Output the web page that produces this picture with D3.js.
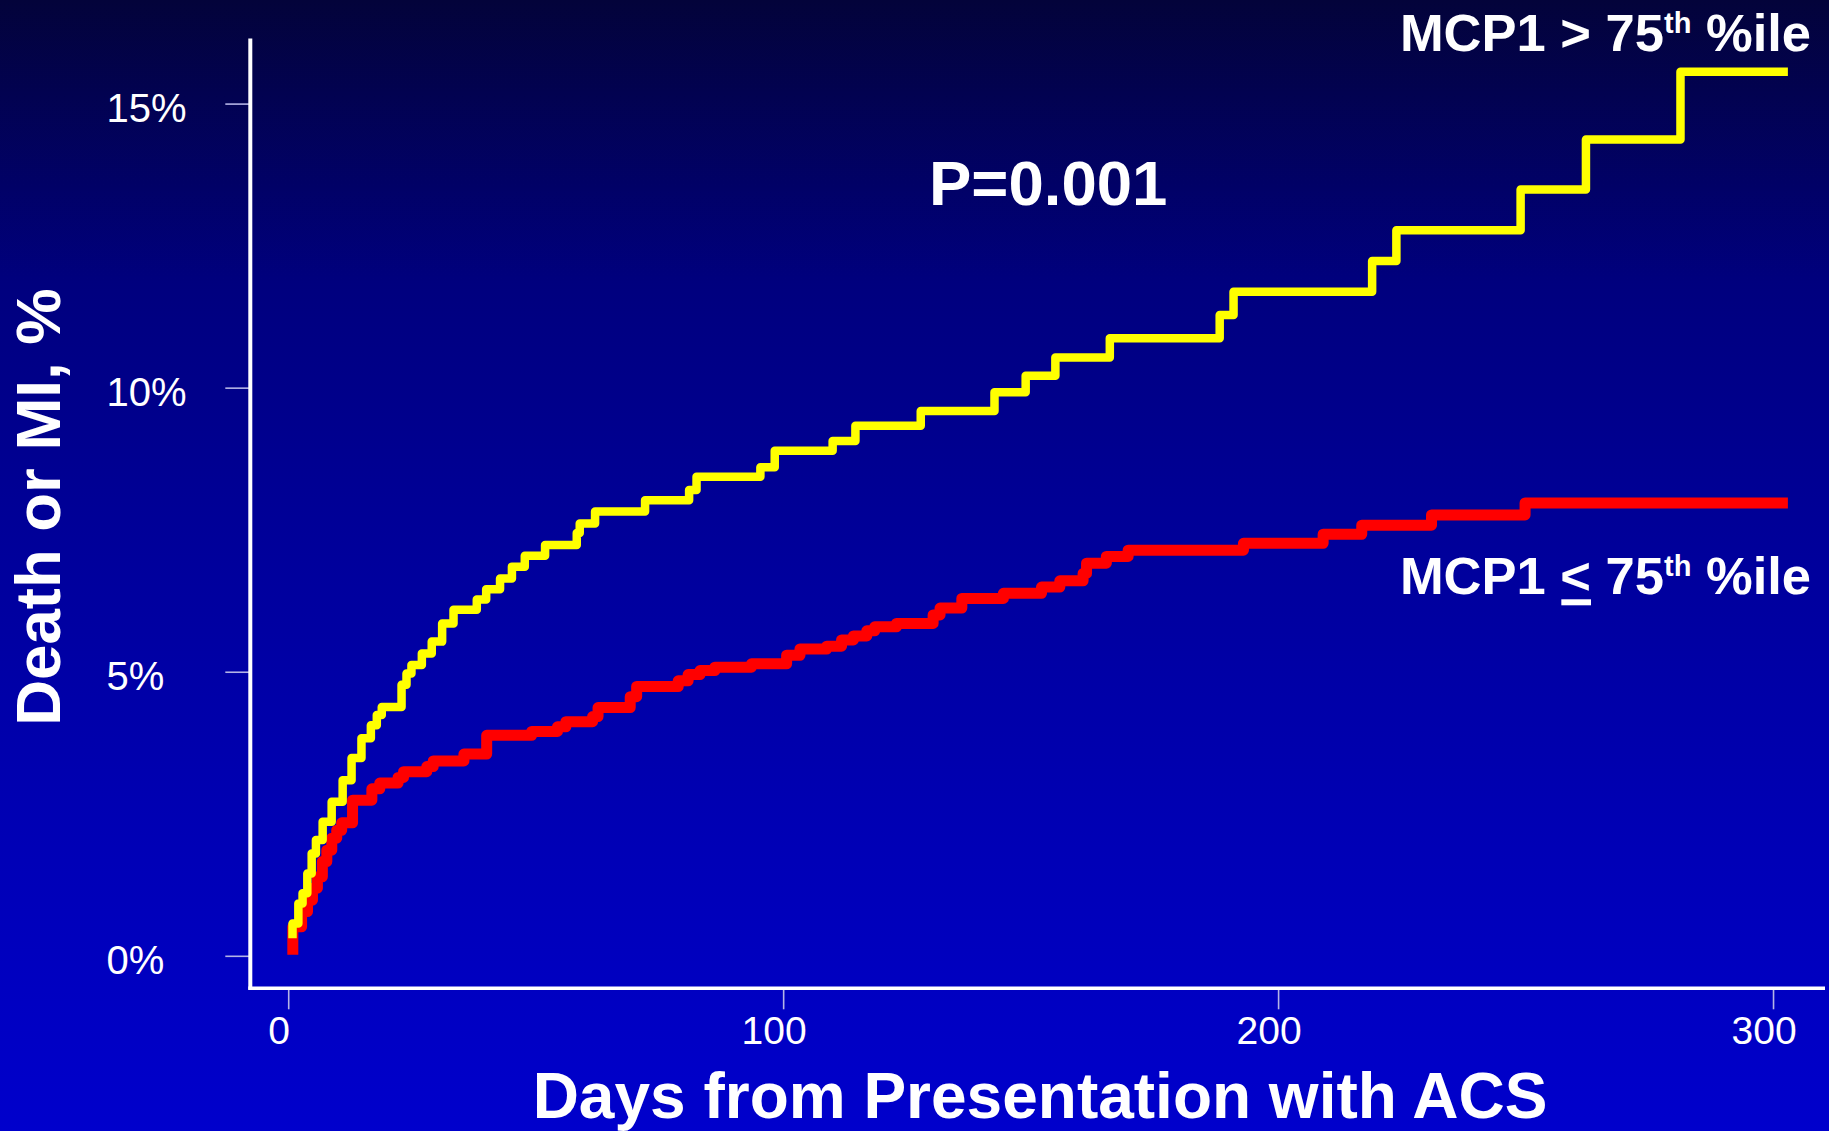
<!DOCTYPE html>
<html>
<head>
<meta charset="utf-8">
<script src="https://cdn.jsdelivr.net/npm/d3@7"></script>
<style>
  html, body { margin: 0; padding: 0; background: #000060; }
  svg { display: block; }
  text { font-family: "Liberation Sans", Arial, Helvetica, sans-serif; white-space: pre; }
</style>
</head>
<body>
<svg id="chart" width="1829" height="1131"></svg>
<script>
// ---- Data ----
const yellowDays = [0.87, 0.87, 2.05, 2.9, 3.86, 4.74, 5.6, 6.96, 8.78, 11.0,
  12.8, 14.8, 16.7, 17.9, 18.9, 22.9, 23.9, 24.9, 27.0, 29.0,
  31.1, 33.4, 38.1, 40.0, 42.8, 45.2, 47.8, 51.9, 58.3, 58.9,
  62.0, 72.1, 81.0, 82.5, 95.4, 98.3, 110, 114.6, 127.8, 142.7,
  149, 155, 166, 188.2, 191, 219, 223.9, 249, 262.2, 281.3, 303];
const yellowPct = [0.31, 0.57, 0.92, 1.10, 1.45, 1.80, 2.04, 2.36, 2.71, 3.09,
  3.48, 3.83, 4.06, 4.24, 4.38, 4.77, 4.97, 5.12, 5.32, 5.53,
  5.85, 6.09, 6.27, 6.45, 6.64, 6.85, 7.04, 7.23, 7.44, 7.61,
  7.82, 8.02, 8.20, 8.43, 8.60, 8.89, 9.06, 9.33, 9.59, 9.92,
  10.21, 10.53, 10.87, 11.28, 11.69, 12.23, 12.77, 13.49, 14.37, 15.56, 15.56];

const redDays = [0.93, 0.93, 2.7, 3.9, 4.9, 5.9, 6.9, 7.8, 8.8, 9.8,
  10.8, 13.0, 16.9, 18.5, 22.2, 23.3, 28.0, 29.3, 35.5, 40.1,
  49.2, 54.4, 56.1, 61.5, 62.6, 69.1, 70.4, 78.8, 80.8, 83.2,
  86.2, 93.6, 100.7, 103.4, 108.8, 111.8, 114.2, 116.9, 118.5, 122.9,
  130.3, 131.7, 136.1, 144.5, 152.2, 155.9, 160.6, 161.3, 165.3, 169.7,
  193, 209.1, 216.9, 231, 249.9, 303];
const redPct = [0.02, 0.51, 0.78, 0.98, 1.19, 1.39, 1.66, 1.86, 2.07, 2.21,
  2.34, 2.74, 2.94, 3.04, 3.14, 3.24, 3.33, 3.43, 3.55, 3.88,
  3.95, 4.03, 4.12, 4.21, 4.37, 4.56, 4.74, 4.84, 4.95, 5.02,
  5.08, 5.14, 5.29, 5.40, 5.45, 5.56, 5.63, 5.72, 5.79, 5.85,
  6.00, 6.12, 6.29, 6.38, 6.49, 6.60, 6.73, 6.91, 7.03, 7.14,
  7.26, 7.42, 7.58, 7.76, 7.97, 7.97];

const xTicks = [0, 100, 200, 300];
const yTicks = [0, 5, 10, 15];

const seriesNames = ["MCP1 > 75", "MCP1 < 75"];
const pText = "P=0.001";
const xTitle = "Days from Presentation with ACS";
const yTitle = "Death or MI, %";

// ---- Layout ----
const W = 1829, H = 1131;
const svg = d3.select("#chart");

const defs = svg.append("defs");
const grad = defs.append("linearGradient").attr("id", "bg")
  .attr("x1", 0).attr("y1", 0).attr("x2", 0).attr("y2", 1);
[[0, "#03033a"], [0.25, "#00007e"], [0.5, "#00009c"], [0.75, "#0000b6"], [1, "#0000cc"]]
  .forEach(([o, c]) => grad.append("stop").attr("offset", o).attr("stop-color", c));
svg.append("rect").attr("width", W).attr("height", H).attr("fill", "url(#bg)");

const x = d3.scaleLinear().domain([-7.66, 310.5]).range([250.3, 1825]);
const y = d3.scaleLinear().domain([-0.572, 16.144]).range([988.3, 38.6]);

// Axes
const xAxisY = y.range()[0];
const yAxisX = x.range()[0];

const gx = svg.append("g").attr("transform", `translate(0,${xAxisY})`)
  .call(d3.axisBottom(x).tickValues(xTicks).tickSize(21).tickFormat(d3.format("d")));
gx.select(".domain").remove();
gx.selectAll(".tick line").attr("stroke", "#b4b4e6").attr("stroke-width", 1.6);
gx.selectAll(".tick text").attr("fill", "#ffffff").attr("font-size", 39)
  .attr("font-family", "Liberation Sans, Arial, sans-serif")
  .attr("x", -9.5).attr("y", 1044.3 - xAxisY).attr("dy", 0);

const gy = svg.append("g").attr("transform", `translate(${yAxisX},0)`)
  .call(d3.axisLeft(y).tickValues(yTicks).tickSize(25).tickFormat(d => d + "%"));
gy.select(".domain").remove();
gy.selectAll(".tick line").attr("stroke", "#b4b4e6").attr("stroke-width", 1.6);
gy.selectAll(".tick text").attr("fill", "#ffffff").attr("font-size", 40)
  .attr("font-family", "Liberation Sans, Arial, sans-serif")
  .attr("text-anchor", "start").attr("x", 106.5 - yAxisX).attr("dy", 0).attr("y", 17.7);

// axis lines
svg.append("line")
  .attr("x1", yAxisX).attr("x2", yAxisX)
  .attr("y1", y.range()[1]).attr("y2", xAxisY + 1.5)
  .attr("stroke", "#ffffff").attr("stroke-width", 4);
svg.append("line")
  .attr("x1", yAxisX - 2).attr("x2", x.range()[1])
  .attr("y1", xAxisY).attr("y2", xAxisY)
  .attr("stroke", "#ffffff").attr("stroke-width", 3.6);

// Step curves
const line = d3.line()
  .x(d => x(d[0]))
  .y(d => y(d[1]))
  .curve(d3.curveStepAfter);

const redData = redDays.map((d, i) => [d, redPct[i]]);
const yellowData = yellowDays.map((d, i) => [d, yellowPct[i]]);

svg.append("path").datum(redData)
  .attr("d", line)
  .attr("fill", "none").attr("stroke", "#ff0000").attr("stroke-width", 11)
  .attr("stroke-linejoin", "round").attr("stroke-linecap", "butt");

svg.append("path").datum(yellowData)
  .attr("d", line)
  .attr("fill", "none").attr("stroke", "#ffff00").attr("stroke-width", 8.5)
  .attr("stroke-linejoin", "round").attr("stroke-linecap", "butt");

// Titles
svg.append("text")
  .attr("x", 1040).attr("y", 1117.5)
  .attr("text-anchor", "middle").attr("font-weight", "bold").attr("font-size", 64)
  .attr("fill", "#ffffff").text(xTitle);

svg.append("text")
  .attr("transform", "translate(60,507) rotate(-90)")
  .attr("text-anchor", "middle").attr("font-weight", "bold").attr("font-size", 63.5)
  .attr("fill", "#ffffff").text(yTitle);

svg.append("text")
  .attr("x", 929).attr("y", 204.6)
  .attr("font-weight", "bold").attr("font-size", 63.5)
  .attr("fill", "#ffffff").text(pText);

// Series labels
function seriesLabel(prefix, baseline, underlineIdx) {
  const t = svg.append("text")
    .attr("x", 1811).attr("y", baseline)
    .attr("text-anchor", "end").attr("font-weight", "bold").attr("font-size", 52.5)
    .attr("fill", "#ffffff");
  t.append("tspan").text(prefix);
  t.append("tspan").attr("font-size", 29).attr("dy", -18).text("th");
  t.append("tspan").attr("dy", 18).text(" %ile");
  if (underlineIdx != null) {
    const ext = t.node().getExtentOfChar(underlineIdx);
    svg.append("rect")
      .attr("x", ext.x + 1).attr("width", ext.width - 1)
      .attr("y", baseline + 5).attr("height", 6)
      .attr("fill", "#ffffff");
  }
}
seriesLabel(seriesNames[0], 50.7, null);
seriesLabel(seriesNames[1], 594.3, 5);
</script>
</body>
</html>
